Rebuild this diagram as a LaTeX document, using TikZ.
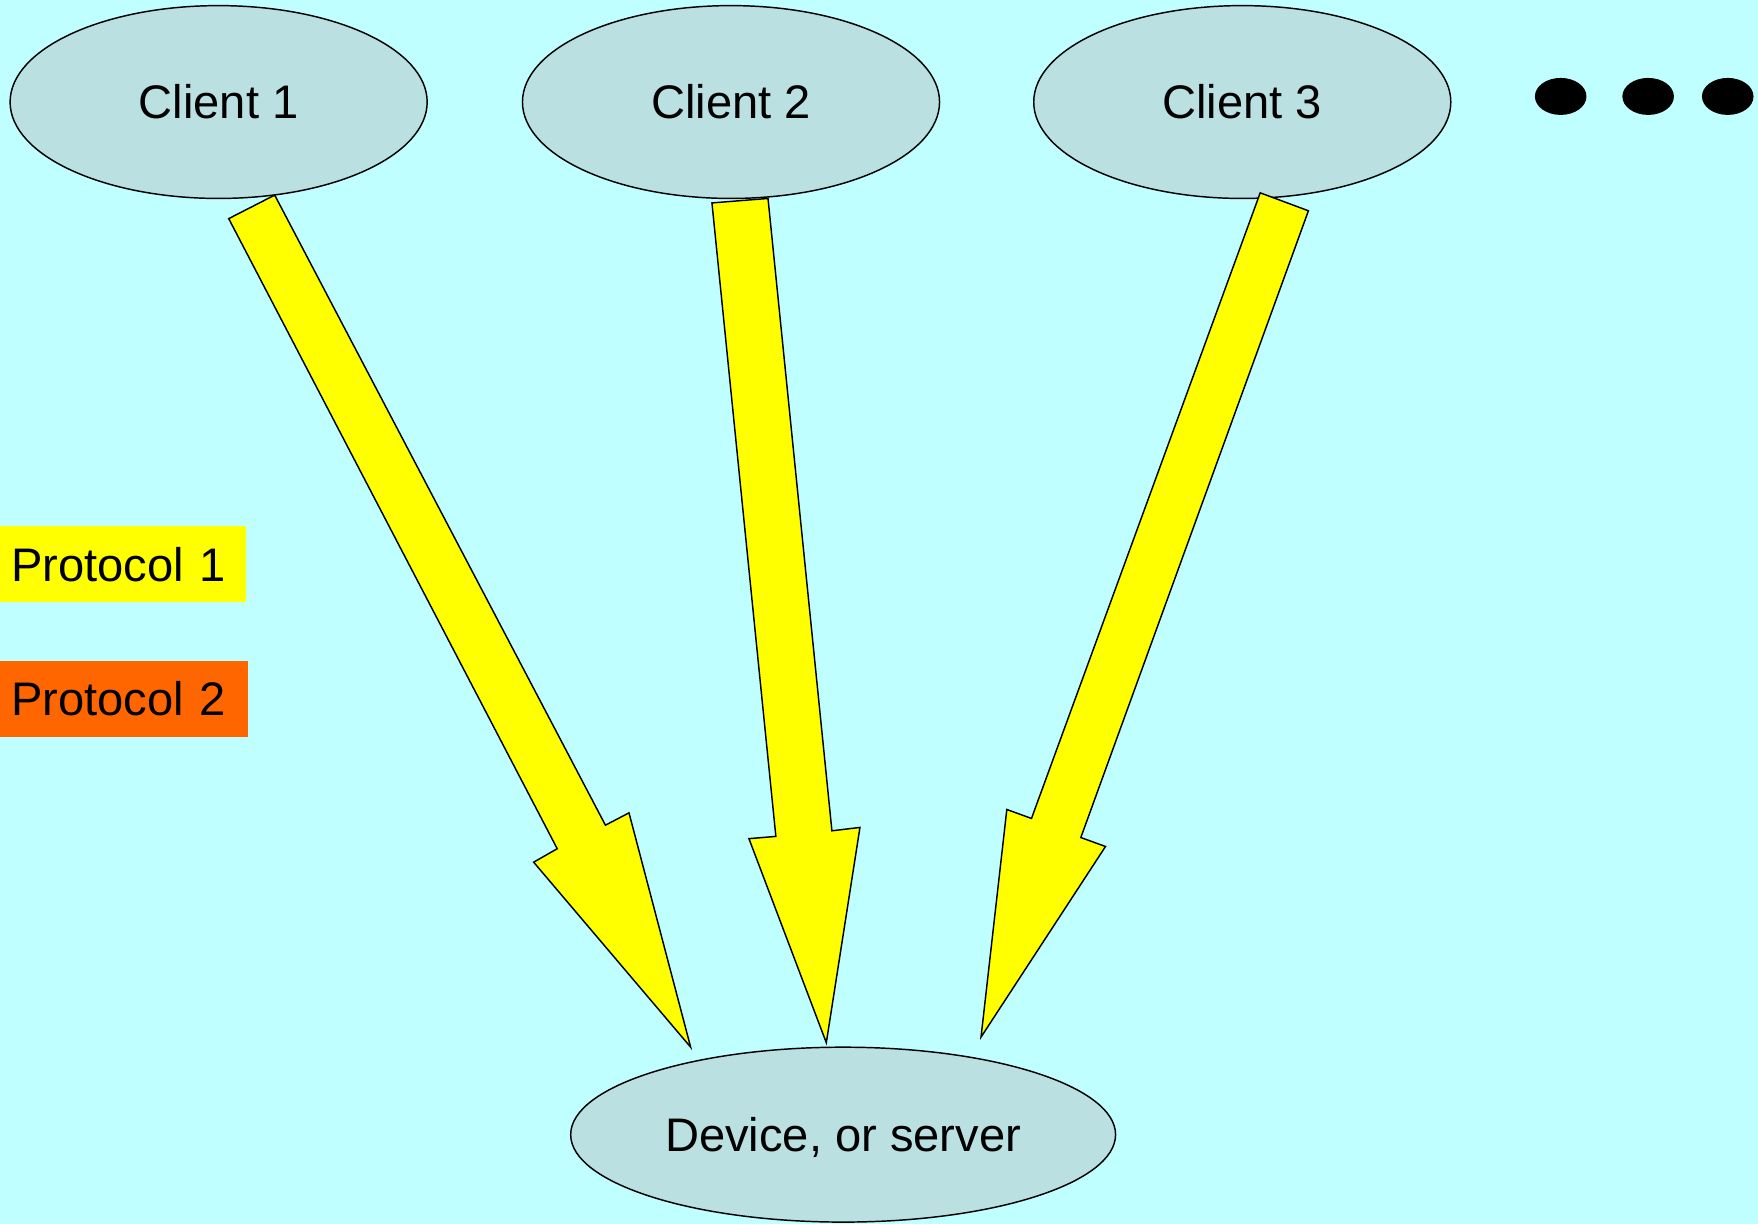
\documentclass[tikz,border=0pt]{standalone}
\usepackage{fontspec}
\setmainfont{Liberation Sans}
\usetikzlibrary{shapes.geometric}
\definecolor{bgcyan}{RGB}{192,255,255}
\definecolor{ellfill}{RGB}{186,224,226}
\definecolor{protoorange}{RGB}{255,102,0}
\definecolor{protoyellow}{RGB}{255,255,0}
\begin{document}
\begin{tikzpicture}[x=1pt,y=-1pt,
  every node/.style={font=\fontsize{42}{50}\selectfont, text height=30pt, text depth=0pt},
  hostell/.style={ellipse, draw=black, line width=1.3pt, fill=ellfill, inner sep=0pt},
  protobox/.style={rectangle, inner xsep=10pt, inner ysep=0pt, minimum height=68pt, align=left, anchor=north west},
  dotell/.style={ellipse, fill=black, inner sep=0pt, minimum width=46pt, minimum height=33pt, text height=0pt},
  bigarrow/.style={fill=protoyellow, draw=black, line width=1.3pt, line join=miter}
]
\fill[bgcyan] (0,0) rectangle (1568,1092);
\useasboundingbox (0,0) rectangle (1568,1092);

% clients
\node[hostell, minimum width=372pt, minimum height=172pt] (c1) at (195,91) {Client 1};
\node[hostell, minimum width=372pt, minimum height=172pt] (c2) at (652,91) {Client 2};
\node[hostell, minimum width=372pt, minimum height=172pt] (c3) at (1108,91) {Client 3};

% dots
\node[dotell] (d1) at (1392,86) {};
\node[dotell] (d2) at (1470,86) {};
\node[dotell] (d3) at (1541,86) {};

% device
\node[hostell, minimum width=486pt, minimum height=156pt] (dev) at (752,1012) {Device, or server};

% legend
\node[protobox, fill=protoyellow, text width=199pt] (p1) at (0,469) {Protocol 1};
\node[protobox, fill=protoorange, text width=201pt] (p2) at (0,589) {Protocol 2};

% block arrows
\draw[bigarrow] (245,174) -- (540,736) -- (561,725) -- (616,934) -- (476,769) -- (497,757) -- (204,195) -- cycle;
\draw[bigarrow] (685,177) -- (742,741) -- (767,738) -- (737,930) -- (668,748) -- (692,746) -- (635,181) -- cycle;
\draw[bigarrow] (1167,188) -- (964,747) -- (986,755) -- (875,925) -- (898,722) -- (920,730) -- (1124,172) -- cycle;
\end{tikzpicture}
\end{document}
